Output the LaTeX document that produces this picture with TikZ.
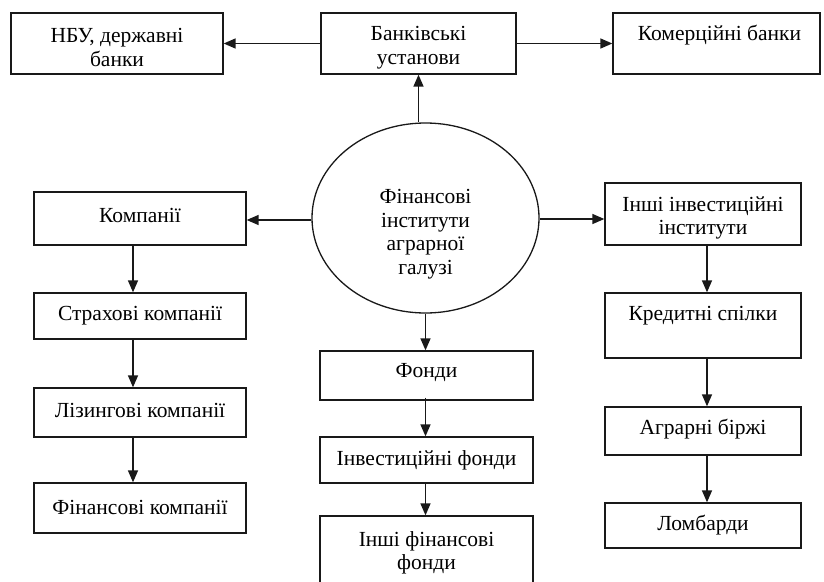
\documentclass[tikz,border=0pt]{standalone}
\usepackage{fontspec}
\setmainfont{Liberation Serif}
\usetikzlibrary{arrows.meta,shapes.geometric}
\begin{document}
\begin{tikzpicture}[x=1pt,y=-1pt,
  every node/.style={font=\fontsize{21.5}{23.5}\selectfont, text=black},
  box/.style={draw=black!90, line width=1.3pt, inner sep=0pt, align=center},
  txt/.style={inner sep=0pt, align=center},
  arr/.style={draw=black!90, line width=1.4pt, -{Triangle[length=12pt,width=10pt]}}]
\useasboundingbox (0,0) rectangle (824,581);
\clip (0,0) rectangle (824,581);
% top row
\node[box, minimum width=212pt, minimum height=61pt] (nbu) at (117,43.5) {};
\node[txt] (nbut) at (117,47.5) {НБУ, державні\\банки};
\node[box, minimum width=195pt, minimum height=61pt] (bank) at (418.5,43.5) {};
\node[txt] (bankt) at (418.5,47.5) {Банківські\\установи};
\node[box, minimum width=207pt, minimum height=61pt] (kom) at (716.5,43.5) {};
\node[txt] (komt) at (719.5,35) {Комерційні банки};
% ellipse
\node[ellipse, draw=black!90, line width=1.3pt, minimum width=227pt, minimum height=190pt, inner sep=0pt] (ell) at (425.5,218) {};
\node[txt] (ellt) at (425.5,234) {Фінансові\\інститути\\аграрної\\галузі};
% left column
\node[box, minimum width=212pt, minimum height=53pt] (komp) at (140,218.5) {};
\node[txt] (kompt) at (140,215.5) {Компанії};
\node[box, minimum width=212pt, minimum height=46pt] (strah) at (140,316) {Страхові компанії};
\node[box, minimum width=212pt, minimum height=49pt] (liz) at (140,412.5) {};
\node[txt] (lizt) at (140,410) {Лізингові компанії};
\node[box, minimum width=212pt, minimum height=50pt] (fink) at (140,508) {};
\node[txt] (finkt) at (140,507) {Фінансові компанії};
% middle column
\node[box, minimum width=213pt, minimum height=49pt] (fondy) at (426.5,375.5) {};
\node[txt] (fondyt) at (426.5,373) {Фонди};
\node[box, minimum width=213pt, minimum height=46pt] (invf) at (426.5,460) {Інвестиційні фонди};
\node[box, minimum width=213pt, minimum height=70pt] (inshf) at (426.5,551) {};
\node[txt] (inshft) at (426.5,553) {Інші фінансові\\фонди};
% right column
\node[box, minimum width=196pt, minimum height=62pt] (inshi) at (703,214) {};
\node[txt] (inshit) at (703,218) {Інші інвестиційні\\інститути};
\node[box, minimum width=196pt, minimum height=65pt] (kred) at (703,325.5) {};
\node[txt] (kredt) at (703,316) {Кредитні спілки};
\node[box, minimum width=196pt, minimum height=48pt] (agr) at (703,431) {};
\node[txt] (agrt) at (703,429) {Аграрні біржі};
\node[box, minimum width=196pt, minimum height=45pt] (lomb) at (703,525.5) {Ломбарди};
% connectors
\draw[arr] (bank.west) -- (nbu.east);
\draw[arr] (bank.east) -- (kom.west);
\draw[arr] (bank.south |- ell.north) -- (bank.south);
\draw[arr] ([yshift=-2pt]ell.west) -- ([yshift=-2pt]ell.west -| komp.east);
\draw[arr] ([yshift=-1pt]ell.east) -- ([yshift=-1pt]ell.east -| inshi.west);
\draw[arr] (ell.south) -- (ell.south |- fondy.north);
\draw[arr] ([xshift=-7pt]komp.south) -- ([xshift=-7pt]strah.north);
\draw[arr] ([xshift=-7pt]strah.south) -- ([xshift=-7pt]liz.north);
\draw[arr] ([xshift=-7pt]liz.south) -- ([xshift=-7pt]fink.north);
\draw[arr] ([yshift=3pt]fondy.south -| ell.south) -- (invf.north -| ell.south);
\draw[arr] (invf.south -| ell.south) -- (inshf.north -| ell.south);
\draw[arr] ([xshift=4pt]inshi.south) -- ([xshift=4pt]kred.north);
\draw[arr] ([xshift=4pt]kred.south) -- ([xshift=4pt]agr.north);
\draw[arr] ([xshift=4pt]agr.south) -- ([xshift=4pt]lomb.north);
\end{tikzpicture}
\end{document}
